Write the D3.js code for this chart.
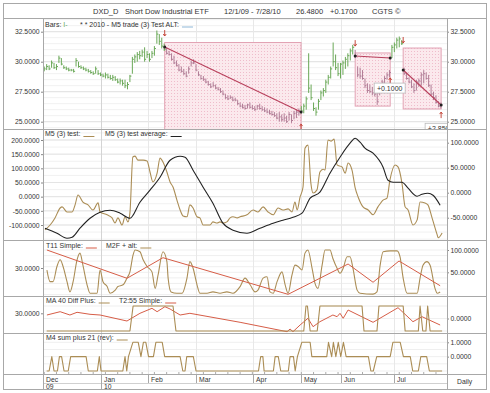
<!DOCTYPE html>
<html>
<head>
<meta charset="utf-8">
<script src="https://cdn.jsdelivr.net/npm/d3@7"></script>
<style>
body { margin: 0; background: #fff; }
text { font-family: "Liberation Sans", Arial, sans-serif; fill: #333; }
</style>
</head>
<body>
<div id="figure"></div>
<script>
// ---- data (trading day index 0 = 12/1/09) ----
var priceHigh = [
  29.6,29.8,29.7,30.1,29.9,29.8,30.5,30.3,29.7,29.6,29.5,29.4,29.4,30.3,30.0,29.7,29.6,29.5,29.4,29.3,
  29.2,29.6,29.3,29.1,29.0,29.1,29.0,28.9,28.9,28.8,28.6,28.6,28.5,28.5,28.3,28.9,30.4,30.6,30.8,30.9,
  31.0,31.2,30.9,30.7,30.9,31.3,32.6,32.3,32.0,
  31.5,31.2,30.9,30.7,30.5,30.1,29.8,29.6,29.4,29.2,29.6,30.1,30.2,29.8,29.2,28.9,28.8,28.6,28.4,28.2,
  28.3,28.1,27.9,27.8,27.6,27.3,27.2,27.2,27.1,27.0,26.8,26.6,26.5,26.4,26.5,26.6,26.4,26.3,26.4,26.5,
  26.3,26.2,26.1,26.0,25.9,25.8,25.7,25.8,25.6,25.7,25.5,25.8,25.6,25.9,26.0,26.1,
  26.3,26.5,27.1,30.7,28.1,26.6,26.2,26.9,27.6,27.8,28.5,28.9,29.6,31.6,30.6,29.9,29.9,30.1,30.4,30.7,
  31.1,31.4,
  30.98,29.6,29.5,29.3,28.6,28.2,28.1,27.9,27.8,27.5,28.1,28.5,28.8,29.1,29.3,
  31.4,31.6,32.0,32.1,31.8,
  29.5,29.1,28.7,28.5,28.2,28.5,28.6,29.1,29.3,29.1,28.9,28.1,27.5,27.2,26.7,26.6
];
var priceLow = [
  29.2,29.3,29.3,29.5,29.4,29.3,29.9,29.7,29.4,29.3,29.2,29.2,29.1,29.6,29.5,29.4,29.3,29.2,29.1,29.0,
  28.9,29.0,28.9,28.8,28.7,28.6,28.6,28.5,28.4,28.4,28.2,28.1,28.0,27.8,27.7,28.3,29.0,29.9,30.0,30.2,
  30.4,30.0,30.3,30.0,30.3,30.5,31.5,31.4,31.1,
  30.9,30.6,30.5,30.1,29.8,29.6,29.2,29.1,28.9,28.7,29.0,29.6,29.8,29.2,28.8,28.5,28.4,28.2,28.0,27.8,
  27.9,27.7,27.6,27.4,27.2,26.9,26.8,26.9,26.7,26.7,26.4,26.2,26.1,26.0,26.1,26.1,26.0,25.9,26.0,26.0,
  25.9,25.8,25.7,25.6,25.5,25.4,25.2,25.0,25.0,25.0,24.9,25.1,24.9,25.2,25.3,25.5,
  25.7,25.7,26.0,27.4,26.8,25.9,25.5,26.0,26.8,27.1,27.4,28.1,28.6,29.6,29.3,28.8,28.6,28.9,29.4,29.6,
  30.1,30.6,
  30.3,28.7,28.6,28.5,27.8,27.4,27.4,27.2,27.1,26.4,27.2,27.6,28.0,28.5,28.7,
  30.3,30.8,31.1,31.2,31.4,
  28.9,28.5,28.2,27.8,27.4,27.6,27.9,28.0,28.2,28.5,27.9,27.2,26.8,26.5,26.2,26.1
];
var priceClose = [
  29.4,29.6,29.4,29.9,29.5,29.6,30.3,29.8,29.5,29.4,29.3,29.3,29.2,30.1,29.6,29.5,29.4,29.3,29.2,29.1,
  29.0,29.4,29.0,28.9,28.8,28.9,28.7,28.6,28.7,28.5,28.3,28.4,28.2,28.0,28.1,28.8,30.2,30.4,30.6,30.5,
  30.8,30.2,30.6,30.2,30.7,31.1,32.3,31.7,31.3,
  31.0,30.7,30.6,30.2,29.9,29.7,29.3,29.2,29.0,28.8,29.4,29.9,29.9,29.3,28.9,28.6,28.5,28.3,28.1,27.9,
  28.0,27.8,27.7,27.5,27.3,27.0,26.9,27.0,26.8,26.8,26.5,26.3,26.2,26.1,26.4,26.2,26.1,26.0,26.3,26.1,
  26.0,25.9,25.8,25.7,25.6,25.5,25.3,25.4,25.2,25.3,25.0,25.6,25.1,25.7,25.8,25.9,
  25.9,26.3,26.9,27.8,27.0,26.1,25.8,26.7,27.4,27.6,28.3,28.7,29.4,30.0,29.5,29.0,29.8,29.9,30.2,30.5,
  30.9,31.2,
  30.5,28.9,28.8,28.6,28.0,27.6,27.5,27.4,27.3,26.7,27.9,28.3,28.6,28.9,29.1,
  31.2,31.4,31.8,31.9,31.5,
  29.0,28.6,28.3,27.9,27.6,28.3,28.4,28.9,29.0,28.6,28.0,27.3,27.0,26.6,26.3,26.4
];

// trades (shaded boxes)
var tradeStart = [49.2, 127, 146.6];
var tradeEnd = [104.9, 141.3, 162.1];
var tradeTop = [31.6, 30.73, 31.14];
var tradeBottom = [24.3, 26.3, 26.06];
var tradeEntry = [31.23, 30.48, 29.31];
var tradeExit = [25.81, 30.31, 26.39];
var tradeEntryMark = [32.14, 31.3, 31.56];
var tradeExitMark = [24.8, 28.65, 25.8];
var tradeResult = [null, "+0.1000", "+2.8500"];
var tradeResultPrice = [null, 27.8, 24.45];

// M5 (3) test  (left scale)
var m5Idx = [0.3,2.4,4.4,6.5,7.3,9.3,11.4,12.6,13.8,15.8,17.9,19.9,22,22.8,25.7,27.7,28.9,30.1,31.8,33,
  34.2,35,36.2,37.1,38.3,40.4,42,43.2,44.4,46.1,47.3,48.5,50.1,51.4,52.6,54.2,55.5,56.7,58.3,59.5,
  60.8,62.4,63.6,64.9,67.7,68.9,70.6,71.8,73,74.6,75.9,77.1,78.8,80,82.8,85.3,87.3,89.4,91.4,93.5,
  95.5,97.5,99.6,101.2,102.4,103.3,104.5,105.7,106.5,107.7,108.9,109.8,111.4,112.6,113.9,114.7,115.9,117.2,118.4,119.6,
  121.6,122.9,124.1,125.7,127,128.2,130.2,132.3,134.3,136.3,138.4,140,141.2,143.3,144.5,146.1,147.4,148.6,150.6,152.3,
  153.5,155.5,156.7,158.4,160.5,160.9,162.5];
var m5Test = [-117,-100,-75,-40,-36,-54,-54,-29,6,-19,-29,-47,-22,-54,-64,-75,-93,-75,-100,-71,
  -89,-57,140,143,129,129,126,87,52,83,136,122,87,52,34,-12,-47,-68,-71,-29,
  -40,-71,-75,-100,-100,-89,-93,-89,-93,-89,-75,-71,-75,-71,-64,-47,-54,-36,-54,-64,
  -40,-47,-43,-54,-19,-47,-1,34,171,182,48,13,24,87,97,94,200,196,203,112,
  105,83,119,94,31,-1,-36,-47,-64,-36,-12,-5,59,112,105,48,-36,-47,-100,-82,
  -19,-22,-29,-75,-135,-145,-128];

// M5 (3) test average (right scale)
var m5AvgIdx = [0.3,5.2,9.3,11.4,14.6,18.7,22.8,26.9,31,35,39.1,43.2,47.3,51.4,55.5,57.5,60.8,64.9,68.9,73,
  77.1,82.8,88.1,93.5,97.5,101.6,105.3,108.6,112.6,116.7,120.8,124.9,127,129,131,134.3,138.4,140.4,142.5,146.1,
  148.6,152.3,154.3,156.7,158.8,161.7];
var m5Avg = [-71,-81,-91,-89,-71,-51,-39,-35,-41,-51,-19,5,31,65,73,71,45,11,-21,-61,
  -75,-81,-71,-61,-55,-49,-41,-11,1,39,71,99,109,101,89,79,51,25,21,21,
  9,-7,-3,-1,-5,-25];

// panel 3: zig-zag (left scale) and oscillator (right scale 0-100)
var t11Idx = [1.1,33.8,48.5,99.6,124.1,134.3,144.9,161.7];
var t11Simple = [50.3,18.4,41.6,0.3,34.5,13.9,37.9,10];
var m2fIdx = [1.1,2.4,3.6,5.2,6.5,7.7,9.3,10.5,11.8,13.4,14.6,15.8,17.5,18.7,21.6,22.8,24,25.7,26.9,29,
  30.1,32.2,33.8,35,36.3,37.1,39.1,40.4,42,44,45.3,46.5,48.5,50.1,50.6,51.8,54.2,56.3,58.3,59.5,
  60.8,62.4,63.6,66.5,68.9,71.8,74.6,77.1,80,82,84.1,86.1,87.3,89.4,91,92.2,93.5,95.1,97.1,98.4,
  99.6,101.2,102.4,103.7,105.3,106.5,107.7,109.4,110.6,111.8,113.5,114.7,116.7,117.9,119.6,120.8,122.1,123.7,124.9,126.1,
  127.8,129,134.3,135.9,137.2,138.4,141.3,144.1,145.3,146.6,148.2,152.3,153.5,154.7,156.3,157.6,159.6,160.5,161.7];
var m2fAlt = [55,29,29,63,78,63,29,6,29,78,93,66,22,3,3,55,29,18,3,10,
  18,22,37,51,89,100,96,78,63,51,14,44,96,74,37,6,3,3,37,74,
  59,22,3,3,6,3,6,3,18,37,22,6,10,37,40,6,3,29,51,22,
  3,44,66,63,55,93,100,59,25,14,66,100,100,81,59,48,59,85,85,59,
  10,3,1,6,66,96,98,98,85,37,3,3,37,66,74,66,14,3,6];

// panel 4
var maIdx = [1.1,6.5,10.5,13.4,18.7,22.8,33.8,39.1,44,46.1,49.3,51.4,55.5,59.5,80,99.2,100.4,101.6,104.5,107.7,
  109.8,112.6,117.9,119.6,120.8,122.1,124.1,134.3,144.5,150.6,154.3,161.7];
var maDiff = [26.6,33.2,26.6,32,28,26.6,14.6,30,40,33.2,43.2,38.6,26.6,30,12,-6.8,-1.4,-6.8,6.6,20,
  3.2,13.2,26.6,23.2,30,20,36.6,12,41.2,13.2,23.2,6.6];
var t2Idx = [1,35,36.3,52.6,53.8,106,106.9,107.5,108.6,111.5,112.6,129.8,130.6,135.9,136.7,146.6,147.4,152.8,153.5,154.6,
  155.9,156.6,157.6,162.5];
var t2Simple = [-1,-1,1,1,-1,-1,1,1,-1,-1,1,1,-1,-1,1,1,-1,-1,1,-1,
  -1,1,-1,-1];

// panel 5
var m4Idx = [1,2,3.1,4,5.4,6.2,7.1,8.1,9.8,10.8,17.1,18,21.7,22.5,23.2,32.1,33,33.7,34.4,36.2,
  38.4,39.5,40.5,41.5,42.6,44.6,45.6,48.2,49.2,55.5,56.6,57.5,58.2,60.9,62,87.5,88.4,89.3,89.8,93.6,
  94.3,95.6,96.6,99.7,100.4,101.8,102.5,103.4,105.2,108.6,109.3,115.4,116.1,117.4,118.1,119.1,120.1,121.1,122.2,123.3,
  132.4,133.4,134.4,135.8,141.3,142.4,145.4,146.7,149.5,150.5,152.8,153.8,156.2,157.3,162.5];
var m4Sum = [-1,-1,0,-1,-1,0,0,-1,-1,0,0,-1,-1,0,-1,-1,0,-1,0,1,
  1,0,1,1,0,0,1,1,0,0,-1,-1,0,0,-1,-1,0,0,-1,-1,
  0,0,-1,-1,0,0,-1,0,1,1,0,0,1,0,1,0,1,0,1,0,
  0,-1,-1,0,0,1,1,0,0,-1,-1,0,0,-1,-1];

// axis labels
var monthLabels = ["Dec","Jan","Feb","Mar","Apr","May","Jun","Jul"];
var monthPos = [-0.5, 23.2, 42.4, 62, 85.3, 104.9, 121.2, 142.9];
var yearLabels = ["09","10"];
var yearPos = [-0.5, 23.2];

// ---- drawing ----
var w = 490, h = 393;
var L = 43, R = 447;
var tan = "#ab8d55", red = "#d65d47", green = "#6aa857", boxBar = "#b07d96";

var svg = d3.select("#figure").append("svg").attr("width", w).attr("height", h);

var x = d3.scaleLinear().domain([-0.5, 164.5]).range([L, R]);

var panels = [[18, 129], [129, 240], [240, 296], [296, 333], [333, 374]];

var yPrice = d3.scaleLinear().domain([25, 32.5]).range([121.7, 31.7]);
var yM5L = d3.scaleLinear().domain([-100, 200]).range([225, 140]);
var yM5R = d3.scaleLinear().domain([-50, 100]).range([217.7, 142.7]);
var yT11L = d3.scaleLinear().domain([0, 30]).range([294.6, 268]);
var yT11R = d3.scaleLinear().domain([0, 100]).range([294.6, 250]);
var yMAL = d3.scaleLinear().domain([30, 40]).range([313.3, 308.3]);
var yMAR = d3.scaleLinear().domain([-1, 1]).range([331, 306]);
var yM4R = d3.scaleLinear().domain([-1, 1]).range([371, 342.3]);

var defs = svg.append("defs");
panels.forEach(function(p, k) {
    defs.append("clipPath").attr("id", "clip" + k)
        .append("rect").attr("x", L).attr("y", p[0]).attr("width", R - L).attr("height", p[1] - p[0]);
});
var pat = defs.append("pattern").attr("id", "hatch").attr("patternUnits", "userSpaceOnUse")
    .attr("width", 3).attr("height", 3);
pat.append("rect").attr("width", 3).attr("height", 3).attr("fill", "#fbe9ed");
pat.append("rect").attr("width", 1).attr("height", 1).attr("fill", "#efbccb");

// horizontal grid
function hgrid(scale, values, k, color) {
    svg.append("g").attr("clip-path", "url(#clip" + k + ")")
        .selectAll("line").data(values).enter().append("line")
        .attr("x1", L).attr("x2", R)
        .attr("y1", function(d) { return scale(d); })
        .attr("y2", function(d) { return scale(d); })
        .attr("stroke", color).attr("stroke-width", 1);
}
hgrid(yPrice, d3.range(24.5, 34, 0.5), 0, "#f1f1f1");
hgrid(yPrice, [25, 27.5, 30, 32.5], 0, "#e2e2e2");
hgrid(yM5L, d3.range(-150, 251, 25), 1, "#f1f1f1");
hgrid(yM5L, [-100, -50, 0, 50, 100, 150, 200], 1, "#e4e4e4");
hgrid(yT11R, d3.range(0, 101, 12.5), 2, "#efefef");
hgrid(yMAR, [-1, 0, 1], 3, "#efefef");
hgrid(yM4R, [-1, -0.5, 0, 0.5, 1], 4, "#efefef");

// month grid lines
svg.append("g").selectAll("line").data(monthPos.slice(1)).enter().append("line")
    .attr("x1", function(d) { return Math.round(x(d)) + 0.5; })
    .attr("x2", function(d) { return Math.round(x(d)) + 0.5; })
    .attr("y1", 18).attr("y2", 374)
    .attr("stroke", function(d, i) { return i == 0 ? "#d4d4d4" : "#e8e8e8"; });

// trade boxes
var trades = tradeStart.map(function(s, i) {
    return { s: s, e: tradeEnd[i], top: tradeTop[i], bot: tradeBottom[i], entry: tradeEntry[i], exit: tradeExit[i],
        em: tradeEntryMark[i], xm: tradeExitMark[i], label: tradeResult[i], lp: tradeResultPrice[i] };
});
var gp = svg.append("g").attr("clip-path", "url(#clip0)");
gp.selectAll("rect.box").data(trades).enter().append("rect")
    .attr("x", function(d) { return x(d.s); })
    .attr("y", function(d) { return yPrice(d.top); })
    .attr("width", function(d) { return x(d.e) - x(d.s); })
    .attr("height", function(d) { return yPrice(d.bot) - yPrice(d.top); })
    .attr("fill", "url(#hatch)").attr("stroke", "#e2a3b4").attr("stroke-width", 1);

// price bars
var bars = priceHigh.map(function(v, i) {
    var inTrade = trades.some(function(t) { return i >= t.s && i <= t.e; });
    return { i: i, hi: v, lo: priceLow[i], cl: priceClose[i], c: inTrade ? boxBar : green };
});
gp.selectAll("line.bar").data(bars).enter().append("line")
    .attr("x1", function(d) { return x(d.i); }).attr("x2", function(d) { return x(d.i); })
    .attr("y1", function(d) { return yPrice(d.hi); }).attr("y2", function(d) { return yPrice(d.lo); })
    .attr("stroke", function(d) { return d.c; }).attr("stroke-width", 1);
gp.selectAll("line.cl").data(bars).enter().append("line")
    .attr("x1", function(d) { return x(d.i); }).attr("x2", function(d) { return x(d.i) + 1.5; })
    .attr("y1", function(d) { return yPrice(d.cl); }).attr("y2", function(d) { return yPrice(d.cl); })
    .attr("stroke", function(d) { return d.c; }).attr("stroke-width", 1);

// trend lines, dots, arrows
gp.selectAll("line.trend").data(trades).enter().append("line")
    .attr("x1", function(d) { return x(d.s); }).attr("y1", function(d) { return yPrice(d.entry); })
    .attr("x2", function(d) { return x(d.e); }).attr("y2", function(d) { return yPrice(d.exit); })
    .attr("stroke", "#b8405c").attr("stroke-width", 1.1);
trades.forEach(function(d) {
    gp.append("circle").attr("cx", x(d.s)).attr("cy", yPrice(d.entry)).attr("r", 1.5).attr("fill", "#222");
    gp.append("circle").attr("cx", x(d.e)).attr("cy", yPrice(d.exit)).attr("r", 1.5).attr("fill", "#222");
    var ax = x(d.s), ay = yPrice(d.em);
    gp.append("path").attr("d", "M" + ax + "," + (ay - 6) + "V" + ay + "M" + (ax - 1.5) + "," + (ay - 2) + "L" + ax + "," + ay + "L" + (ax + 1.5) + "," + (ay - 2))
        .attr("stroke", "#c0392b").attr("fill", "none").attr("stroke-width", 0.9);
    var bx = x(d.e), by = yPrice(d.xm);
    gp.append("path").attr("d", "M" + bx + "," + (by + 6) + "V" + by + "M" + (bx - 1.5) + "," + (by + 2) + "L" + bx + "," + by + "L" + (bx + 1.5) + "," + (by + 2))
        .attr("stroke", "#c0392b").attr("fill", "none").attr("stroke-width", 0.9);
    if (d.label) {
        var ly = yPrice(d.lp);
        gp.append("rect").attr("x", bx - 16).attr("y", ly - 5).attr("width", 31).attr("height", 10)
            .attr("fill", "#fff").attr("stroke", "#bbb").attr("stroke-width", 0.8);
        gp.append("text").attr("x", bx - 0.5).attr("y", ly + 2.5).attr("text-anchor", "middle")
            .style("font-size", "7px").text(d.label);
    }
});

// generic line
function drawLine(k, idx, vals, scale, color, curve, width) {
    var pts = idx.map(function(v, i) { return [v, vals[i]]; });
    svg.append("path").datum(pts).attr("clip-path", "url(#clip" + k + ")")
        .attr("fill", "none").attr("stroke", color).attr("stroke-width", width || 1.1)
        .attr("stroke-linejoin", "round")
        .attr("d", d3.line().curve(curve || d3.curveLinear)
            .x(function(d) { return x(d[0]); })
            .y(function(d) { return scale(d[1]); }));
}
drawLine(1, m5Idx, m5Test, yM5L, tan, d3.curveMonotoneX, 1.1);
drawLine(1, m5AvgIdx, m5Avg, yM5R, "#222", d3.curveMonotoneX, 1.1);
drawLine(2, m2fIdx, m2fAlt, yT11R, tan, d3.curveMonotoneX, 1.1);
drawLine(2, t11Idx, t11Simple, yT11L, red, d3.curveLinear, 1);
drawLine(3, maIdx, maDiff, yMAL, red, d3.curveLinear, 1);
drawLine(3, t2Idx, t2Simple, yMAR, tan, d3.curveLinear, 1.1);
drawLine(4, m4Idx, m4Sum, yM4R, tan, d3.curveLinear, 1.1);

// axes
function fmt4(d) { return d.toFixed(4); }
function drawAxis(scale, side, values) {
    var a = (side == "left" ? d3.axisLeft(scale) : d3.axisRight(scale))
        .tickValues(values).tickSize(2).tickPadding(1.5).tickFormat(fmt4);
    var g = svg.append("g")
        .attr("transform", "translate(" + (side == "left" ? L : R) + ",0)")
        .call(a);
    g.select(".domain").remove();
    g.selectAll("line").attr("stroke", "#888");
    g.selectAll("text").style("font-size", "6.8px").attr("fill", "#333")
        .style("font-family", "'Liberation Sans', Arial, sans-serif");
}
drawAxis(yPrice, "left", [25, 27.5, 30, 32.5]);
drawAxis(yPrice, "right", [25, 27.5, 30, 32.5]);
drawAxis(yM5L, "left", [-100, -50, 0, 50, 100, 150, 200]);
drawAxis(yM5R, "right", [-50, 0, 50, 100]);
drawAxis(yT11L, "left", [30]);
drawAxis(yT11R, "right", [50, 100]);
drawAxis(yMAL, "left", [30]);
drawAxis(yMAR, "right", [0]);
drawAxis(yM4R, "right", [0, 1]);

// frame lines
var frame = svg.append("g").attr("stroke", "#a8a8a8").attr("fill", "none").attr("shape-rendering", "crispEdges");
frame.append("rect").attr("x", 3.5).attr("y", 3.5).attr("width", 483).attr("height", 386);
[18, 129, 240, 296, 333, 374].forEach(function(yy) {
    frame.append("line").attr("x1", 3.5).attr("x2", 486.5).attr("y1", yy + 0.5).attr("y2", yy + 0.5);
});
frame.append("line").attr("x1", L).attr("x2", R).attr("y1", 383.5).attr("y2", 383.5).attr("stroke", "#d0d0d0");
frame.append("line").attr("x1", L + 0.5).attr("x2", L + 0.5).attr("y1", 18).attr("y2", 389);
frame.append("line").attr("x1", R + 0.5).attr("x2", R + 0.5).attr("y1", 18).attr("y2", 389);

// x axis
var gx = svg.append("g");
gx.selectAll("line.wk").data(d3.range(0, 165, 5)).enter().append("line")
    .attr("x1", function(d) { return x(d); }).attr("x2", function(d) { return x(d); })
    .attr("y1", 372).attr("y2", 374).attr("stroke", "#aaa");
gx.selectAll("line.mo").data(monthPos).enter().append("line")
    .attr("x1", function(d) { return Math.round(x(d)) + 0.5; }).attr("x2", function(d) { return Math.round(x(d)) + 0.5; })
    .attr("y1", 374).attr("y2", function(d, i) { return i < 2 ? 389 : 383; })
    .attr("stroke", "#a8a8a8");
gx.selectAll("text.mo").data(monthLabels).enter().append("text")
    .attr("x", function(d, i) { return x(monthPos[i]) + 3; }).attr("y", 381.5)
    .style("font-size", "6.8px").text(function(d) { return d; });
gx.selectAll("text.yr").data(yearLabels).enter().append("text")
    .attr("x", function(d, i) { return x(yearPos[i]) + 3; }).attr("y", 388.5)
    .style("font-size", "6.8px").text(function(d) { return d; });
svg.append("text").attr("x", 457).attr("y", 384).style("font-size", "6.8px").text("Daily");

// title bar
var title = [["DXD_D", 93], ["Short Dow Industrial ETF", 125], ["12/1/09 - 7/28/10", 224],
    ["26.4800", 296], ["+0.1700", 330], ["CGTS \u00a9", 372]];
svg.selectAll("text.title").data(title).enter().append("text")
    .attr("x", function(d) { return d[1]; }).attr("y", 14)
    .style("font-size", "7.5px").attr("fill", "#222").text(function(d) { return d[0]; });

// panel legends
function legend(xx, yy, label, color, sw) {
    var t = svg.append("text").attr("x", xx).attr("y", yy).style("font-size", "7px").attr("fill", "#222").text(label);
    var tw = t.node().getComputedTextLength();
    svg.append("line").attr("x1", xx + tw + 3).attr("x2", xx + tw + 3 + (sw || 11))
        .attr("y1", yy + 0.5).attr("y2", yy + 0.5).attr("stroke", color).attr("stroke-width", 1);
}
var tb = svg.append("text").attr("x", 45).attr("y", 26.5).style("font-size", "7px").attr("fill", "#222");
tb.append("tspan").text("Bars: ");
tb.append("tspan").attr("fill", green).style("fill", green).text("I-");
legend(80, 26.5, "* * 2010 - M5 trade (3) Test ALT:", "#8fb8d8");
legend(45, 136, "M5 (3) test:", tan);
legend(105, 136, "M5 (3) test average:", "#222");
legend(46, 247.5, "T11 Simple:", red);
legend(106, 247.5, "M2F + alt:", tan);
legend(46, 302.5, "MA 40 Diff Plus:", tan);
legend(119, 302.5, "T2:55 Simple:", red);
legend(46, 339.5, "M4 sum plus 21 (rev):", tan);
</script>
</body>
</html>
